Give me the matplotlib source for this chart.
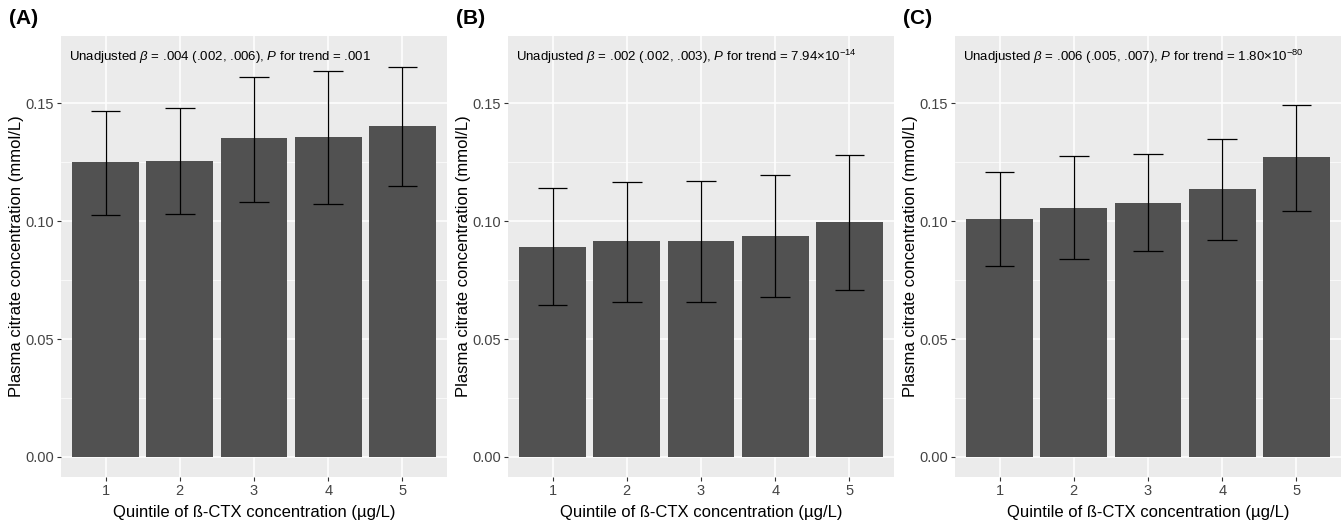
import numpy as np
import matplotlib
matplotlib.use("Agg")
from matplotlib import pyplot as plt

plt.rcParams['font.family'] = ['Liberation Sans', 'DejaVu Sans']
plt.rcParams['mathtext.fontset'] = 'custom'
plt.rcParams['mathtext.rm'] = 'Liberation Sans'
plt.rcParams['mathtext.it'] = 'Liberation Sans:italic'

quintiles = [1, 2, 3, 4, 5]

# panel A
mean_a = [0.1250, 0.1257, 0.1353, 0.1356, 0.1405]
low_a = [0.1028, 0.1032, 0.1083, 0.1071, 0.1151]
high_a = [0.1466, 0.1479, 0.1613, 0.1637, 0.1654]

# panel B
mean_b = [0.0891, 0.0915, 0.0915, 0.0939, 0.0996]
low_b = [0.0643, 0.0658, 0.0658, 0.0679, 0.0708]
high_b = [0.1139, 0.1164, 0.1171, 0.1196, 0.1280]

# panel C
mean_c = [0.1011, 0.1055, 0.1078, 0.1136, 0.1274]
low_c = [0.0811, 0.0839, 0.0873, 0.0922, 0.1044]
high_c = [0.1208, 0.1275, 0.1285, 0.1350, 0.1494]

panel_labels = ["(A)", "(B)", "(C)"]
notes = [r"Unadjusted $\beta$ = .004 (.002, .006), $P$ for trend = .001",
         r"Unadjusted $\beta$ = .002 (.002, .003), $P$ for trend = 7.94×10$^{-14}$",
         r"Unadjusted $\beta$ = .006 (.005, .007), $P$ for trend = 1.80×10$^{-80}$"]
yticks = [0.00, 0.05, 0.10, 0.15]
ytick_labels = ["0.00", "0.05", "0.10", "0.15"]

W, H = 1341, 521
fig = plt.figure(figsize=(W/100, H/100), dpi=100)

lefts = [61, 508, 955]
data = [(mean_a, low_a, high_a), (mean_b, low_b, high_b), (mean_c, low_c, high_c)]

for i in range(3):
	left = lefts[i]
	ax = fig.add_axes([left/W, (H-477)/H, 386/W, 441/H])
	ax.set_facecolor("#EBEBEB")
	for s in ax.spines.values():
		s.set_visible(False)
	ax.set_axisbelow(True)
	mean, low, high = data[i]
	ax.bar(quintiles, mean, width=0.9, color="#515151", zorder=2)
	ax.vlines(quintiles, low, high, color="black", linewidth=0.9, zorder=3)
	x = np.array(quintiles)
	ax.hlines(low, x-0.2, x+0.2, color="black", linewidth=0.9, zorder=3)
	ax.hlines(high, x-0.2, x+0.2, color="black", linewidth=0.9, zorder=3)
	ax.set_xlim(0.4, 5.6)
	ax.set_ylim(-0.0085, 0.1785)
	ax.set_yticks(yticks)
	ax.set_yticklabels(ytick_labels)
	ax.set_yticks([0.025, 0.075, 0.125], minor=True)
	ax.set_xticks(quintiles)
	ax.grid(which="major", color="white", linewidth=1.1)
	ax.grid(which="minor", axis="y", color="white", linewidth=0.5)
	ax.tick_params(which="major", length=3, width=0.8, color="#333333",
		labelcolor="#444444", labelsize=10.5, pad=2)
	ax.tick_params(which="minor", length=0)
	ax.set_xlabel("Quintile of ß-CTX concentration (µg/L)", fontsize=12, labelpad=5)
	ax.set_ylabel("Plasma citrate concentration (mmol/L)", fontsize=12, labelpad=1)
	ax.text(8/386, 0.952, notes[i], transform=ax.transAxes, fontsize=9.5,
		ha="left", va="center", color="black")
	fig.text((left-52)/W, 1-18/H, panel_labels[i], fontsize=15, fontweight="bold",
		ha="left", va="center")

plt.savefig("out.png", dpi=100)
